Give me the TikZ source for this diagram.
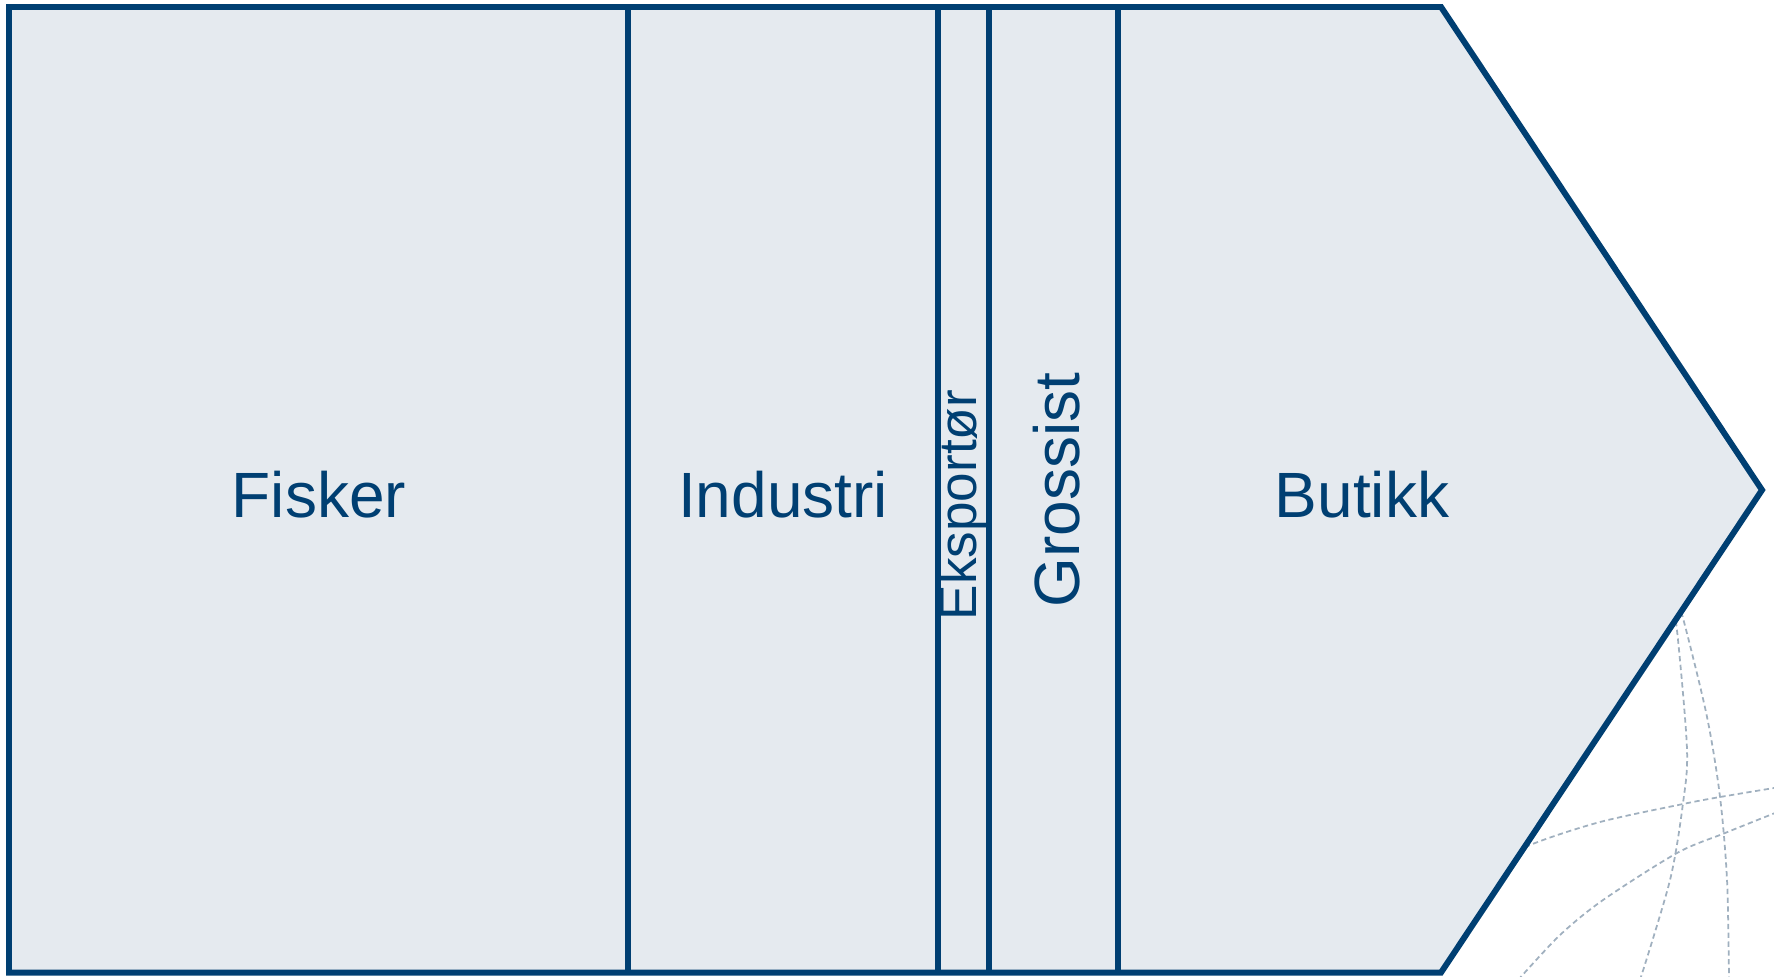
\documentclass[tikz,border=0pt]{standalone}
\usepackage{fontspec}
\setmainfont{Liberation Sans}
\usetikzlibrary{positioning}
\definecolor{chainblue}{RGB}{0,63,114}
\definecolor{chainfill}{RGB}{229,234,239}
\definecolor{globegray}{RGB}{160,176,191}
\begin{document}
\begin{tikzpicture}[x=0.01cm,y=-0.01cm,
    link/.style={draw=chainblue,line width=1.7pt,line join=miter},
    linktext/.style={text=chainblue,font=\fontsize{18.2}{20}\selectfont,anchor=base,inner sep=0pt},
    smalltext/.style={linktext,font=\fontsize{15.1}{17}\selectfont},
    globe/.style={draw=globegray,line width=0.5pt,dash pattern=on 1.5pt off 1pt}]
  \useasboundingbox (0,0) rectangle (1774,976);
  \draw[globe] plot[smooth] coordinates {(1668,560) (1678,640) (1687,750) (1683,803) (1670,880) (1640,980)};
  \draw[globe] plot[smooth] coordinates {(1668,570) (1684,622) (1707,717) (1720,797) (1727,880) (1729,980)};
  \draw[globe] plot[smooth] coordinates {(1470,875) (1530,845) (1600,822) (1683,804) (1720,797) (1780,787)};
  \draw[globe] plot[smooth] coordinates {(1518,980) (1560,935) (1603,900) (1677,853) (1725,833) (1780,811)};
  \coordinate (nw) at (9,7);
  \coordinate (sw) at (9,972.5);
  \coordinate (ne) at (1441,7);
  \coordinate (se) at (1441,972.5);
  \coordinate (tip) at (1762,490);
  \draw[link,fill=chainfill] (nw) -- (ne) -- (tip) -- (se) -- (sw) -- cycle;
  \foreach \x in {628,938,989,1118}
    \draw[link] (\x,7) -- (\x,972.5);
  \node[linktext] (fisker) at (319,517) {Fisker};
  \node[linktext] (industri) at (783,517) {Industri};
  \node[smalltext,rotate=90] (eksportor) at (976,505) {Eksportør};
  \node[linktext,rotate=90] (grossist) at (1079,490) {Grossist};
  \node[linktext] (butikk) at (1362,517) {Butikk};
\end{tikzpicture}
\end{document}
